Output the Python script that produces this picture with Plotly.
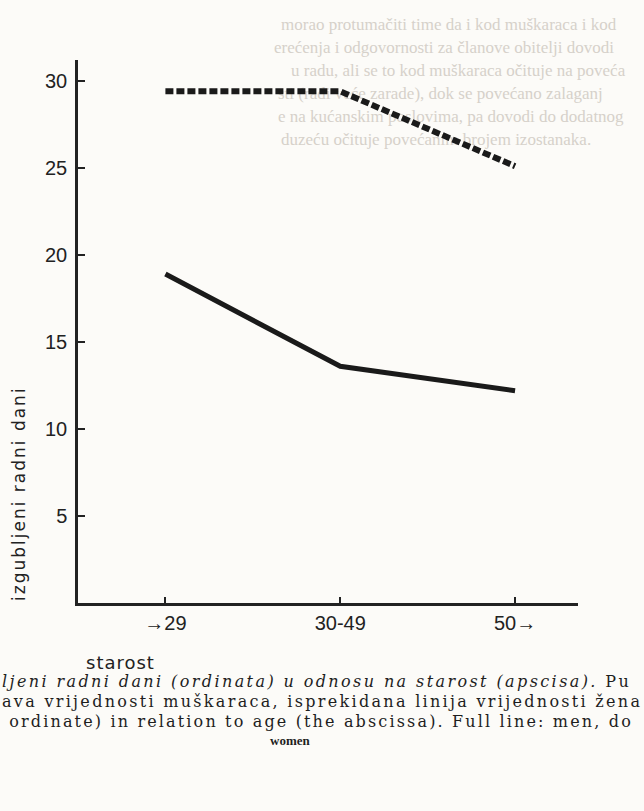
import plotly.graph_objects as go

categories = ["→29", "30-49", "50→"]
men = [18.9, 13.6, 12.2]
women = [29.4, 29.4, 25.1]
y_ticks = [5, 10, 15, 20, 25, 30]

x_pos = list(range(len(categories)))

fig = go.Figure()
fig.add_trace(go.Scatter(x=x_pos, y=women, mode="lines",
                         line=dict(color="#1a1a1a", width=6, dash="8px,3px"),
                         showlegend=False, hoverinfo="skip"))
fig.add_trace(go.Scatter(x=x_pos, y=men, mode="lines",
                         line=dict(color="#1a1a1a", width=5),
                         showlegend=False, hoverinfo="skip"))

fig.update_xaxes(range=[-0.5, 2.36], tickvals=x_pos, ticktext=categories,
                 ticks="inside", ticklen=6, tickwidth=1.5, tickcolor="#222",
                 showline=True, linecolor="#222", linewidth=2.5,
                 showgrid=False, zeroline=False, automargin=False,
                 ticklabelstandoff=0,
                 tickfont=dict(family="Liberation Sans", size=20, color="#222"))
fig.update_yaxes(range=[0, 31.2], tickvals=y_ticks,
                 ticks="inside", ticklen=7, tickwidth=1.5, tickcolor="#222",
                 showline=True, linecolor="#222", linewidth=2.5,
                 showgrid=False, zeroline=False, ticklabelstandoff=4,
                 automargin=False,
                 tickfont=dict(family="Liberation Sans", size=20, color="#222"))

bleed = [
    (275, 22, "morao protumačiti time da i kod muškaraca i kod"),
    (268, 45, "erećenja i odgovornosti za članove obitelji dovodi"),
    (285, 68, "u radu, ali se to kod muškaraca očituje na poveća"),
    (272, 91, "sti (radi veće zarade), dok se povećano zalaganj"),
    (272, 114, "e na kućanskim poslovima, pa dovodi do dodatnog"),
    (275, 137, "duzeću očituje povećanim brojem izostanaka."),
]

W0, W1, H0, H1 = 78, 578, 60, 603
def px(x):
    return (x - W0) / (W1 - W0)
def py(y):
    return (H1 - y) / (H1 - H0)

shapes = []
for x, y, t in bleed:
    shapes.append(dict(type="rect", xref="paper", yref="paper",
                       x0=px(x), x1=px(x + 2), y0=py(y + 1), y1=py(y - 1),
                       line=dict(width=0), fillcolor="rgba(0,0,0,0)", layer="below",
                       label=dict(text=t, textposition="middle left",
                                  xanchor="left",
                                  font=dict(family="Liberation Serif", size=17,
                                            color="#d6d1ca"))))

ann = []
ann.append(dict(x=px(19), y=py(494), xref="paper", yref="paper",
                text='<span style="letter-spacing:2px">izgubljeni radni dani</span>',
                textangle=-90, showarrow=False, xanchor="center", yanchor="middle",
                font=dict(family="DejaVu Sans", size=17, color="#222")))
ann.append(dict(x=px(84), y=py(662), xref="paper", yref="paper",
                text='<span style="letter-spacing:1px">starost</span>',
                showarrow=False, xanchor="left", yanchor="middle",
                font=dict(family="DejaVu Sans", size=18, color="#222")))

cap = [
    (0, 681, '<span style="letter-spacing:2.4px"><i>ljeni radni dani (ordinata) u odnosu na starost (apscisa).</i> Pu</span>'),
    (0, 701, '<span style="letter-spacing:2.3px">ava vrijednosti muškaraca, isprekidana linija vrijednosti žena</span>'),
    (0, 721, '<span style="letter-spacing:2.15px"> ordinate) in relation to age (the abscissa). Full line: men, do</span>'),
]
for x, y, t in cap:
    ann.append(dict(x=px(x), y=py(y), xref="paper", yref="paper", text=t,
                    showarrow=False, xanchor="left", yanchor="middle",
                    font=dict(family="DejaVu Serif", size=16, color="#1e1e1e")))
ann.append(dict(x=px(290), y=py(740), xref="paper", yref="paper",
                text="<b>women</b>", showarrow=False, xanchor="center", yanchor="middle",
                font=dict(family="Liberation Serif", size=13, color="#1e1e1e")))

fig.update_layout(width=644, height=811,
                  margin=dict(l=W0, r=644 - W1, t=H0, b=811 - H1),
                  paper_bgcolor="#fcfbf8", plot_bgcolor="rgba(0,0,0,0)",
                  annotations=ann, shapes=shapes)

fig.write_html("out.html", config={"displayModeBar": False},
               post_script="document.body.style.margin='0';document.body.style.overflow='hidden';")
